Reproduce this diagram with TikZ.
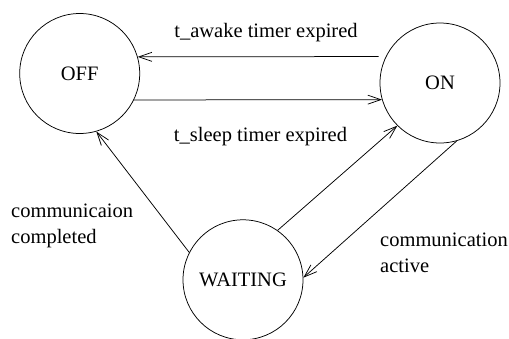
\documentclass[tikz,border=0pt]{standalone}
\usepackage{fontspec}
\setmainfont{Liberation Serif}
\usetikzlibrary{arrows.meta}
\begin{document}
\begin{tikzpicture}[x=1pt,y=-1pt,
  state/.style={circle,draw,line width=0.75pt,minimum size=120pt,inner sep=0pt,font=\fontsize{20.5}{26}\selectfont},
  lbl/.style={font=\fontsize{20.5}{26}\selectfont,inner sep=0pt},
  conn/.style={line width=0.75pt,-{Straight Barb[length=13pt,width=9pt,line width=0.75pt]}}]
\useasboundingbox (0,0) rectangle (509,338);
\node[state] (off) at (79.7,73.5) {\raisebox{-3pt}{OFF}};
\node[state] (on) at (440,83) {\raisebox{-2pt}{ON}};
\node[state] (wait) at (243,279.8) {\raisebox{-2pt}{WAITING}};
\draw[conn] ([xshift=-7pt]on.154) -- (off.16);
\draw[conn] (off.-26) -- (on.196);
\draw[conn] (wait.153) -- (off.-74);
\draw[conn] (wait.55) -- (on.225);
\draw[conn] (on.-74) -- (wait.2);
\node[lbl] (la) at (266,33) {t\_awake timer expired};
\node[lbl] (ls) at (260.5,137) {t\_sleep timer expired};
\node[lbl,align=left,anchor=west] (lc) at (11,226) {communicaion\\completed};
\node[lbl,align=left,anchor=west] (lca) at (380,253) {communication\\active};
\end{tikzpicture}
\end{document}
